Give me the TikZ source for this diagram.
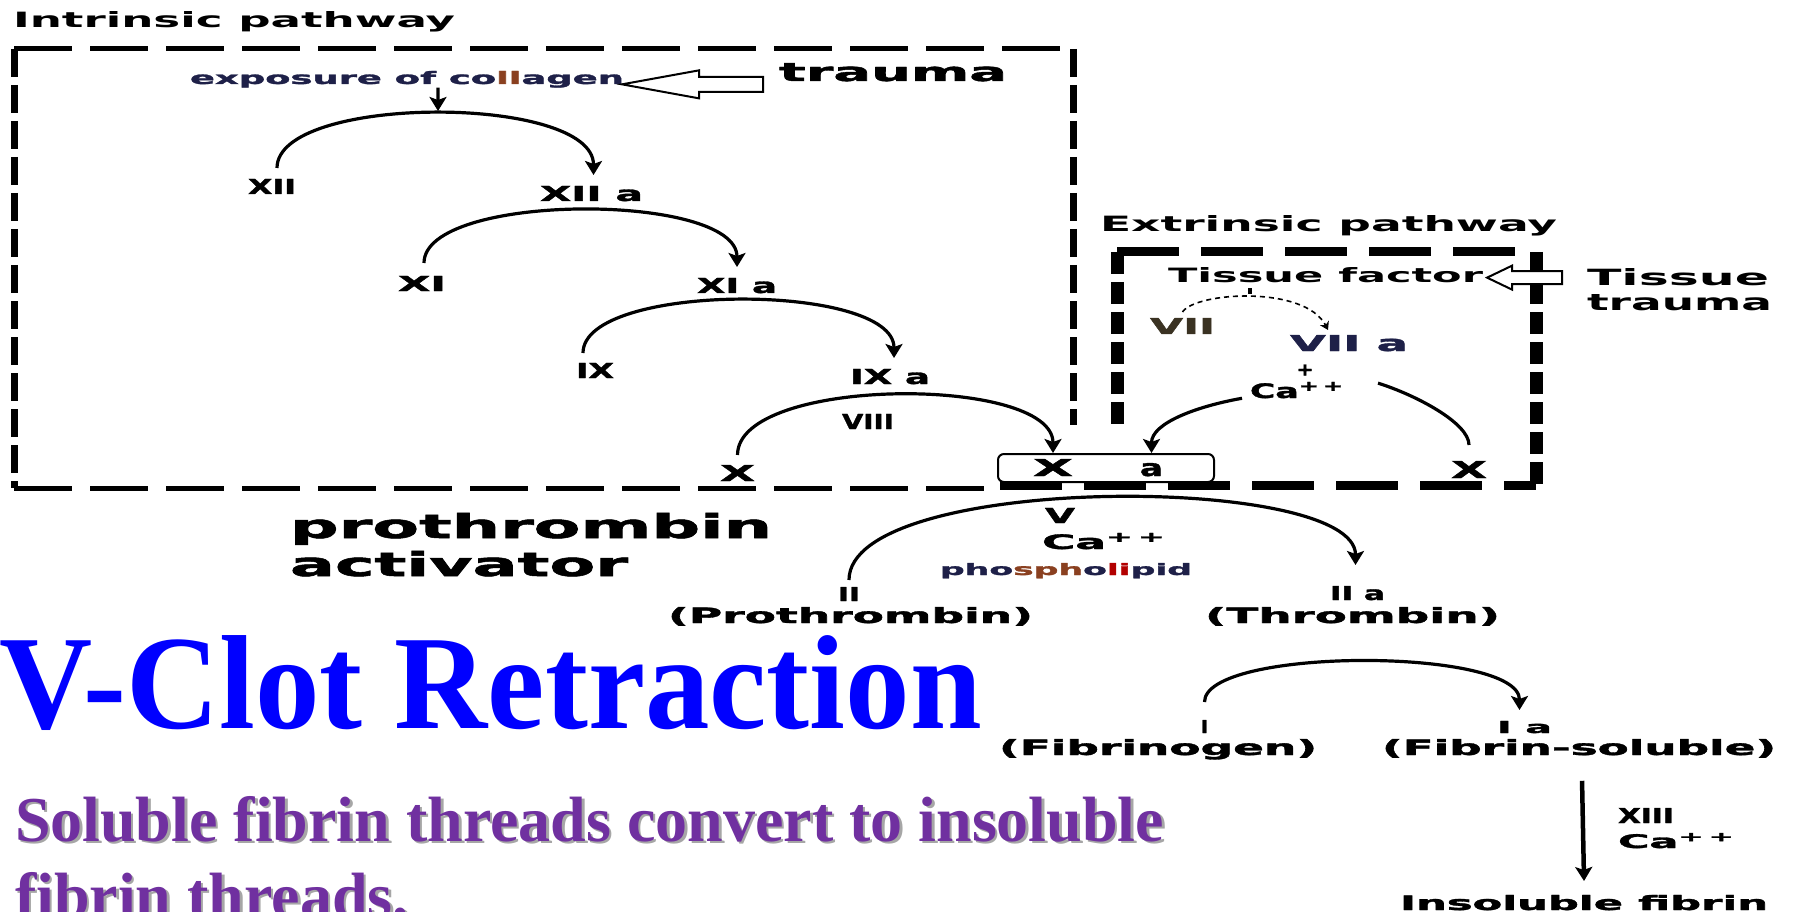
\documentclass[tikz,border=0pt]{standalone}
\usepackage{fontspec}
\usepackage{graphicx}
\usetikzlibrary{arrows.meta,calc}
\newfontfamily\dv{DejaVu Sans}
\newfontfamily\dvh{DejaVu Sans}[BoldFeatures={FakeBold=1.5}]
\newfontfamily\tnr{Liberation Serif}
\definecolor{purp}{HTML}{7030A0}
\definecolor{navy}{HTML}{1E2048}
\definecolor{brn}{HTML}{8A4020}
\definecolor{olv}{HTML}{3A3222}
\newcommand\rs[3]{\resizebox{#1pt}{#2pt}{#3}}
\begin{document}
\begin{tikzpicture}[x=1pt,y=-1pt,
 lb/.style={inner sep=0pt,outer sep=0pt,anchor=base west,font=\dvh\bfseries},
 lm/.style={inner sep=0pt,outer sep=0pt,anchor=base west,font=\dv\bfseries},
 inh/.style={line width=5pt,dash pattern=on 58pt off 18pt},
 inv/.style={line width=7pt,dash pattern=on 28pt off 8pt},
 exh/.style={line width=9pt,dash pattern=on 62pt off 22pt},
 exv/.style={line width=13pt,dash pattern=on 22pt off 8pt},
 cascade/.style={line width=3.2pt,-{Stealth[width=17pt,length=14pt,inset=3pt]}},
 curve/.style={line width=3.2pt},
 hollow/.style={draw,line width=2pt,fill=white,line join=miter},
 bigtxt/.style={inner sep=0pt,outer sep=0pt,anchor=base west,font=\tnr\bfseries\fontsize{64}{64}\selectfont},
]
\useasboundingbox (0,0) rectangle (1808,912);
\fill[white] (0,0) rectangle (1808,912);

% dashed frames
\draw[inh] (14,49) -- (1073,49);
\draw[inv] (14,49) -- (14,488);
\draw[inv] (1073,49) -- (1073,425);
\draw[inh] (14,488) -- (1000,488);
\draw[exh] (1117,252) -- (1536,252);
\draw[exv] (1117,252) -- (1117,424);
\draw[exv] (1536,252) -- (1536,485);
\draw[exh] (1000,485) -- (1536,485);

% labels: intrinsic
\node[lm] (intr) at (13,28) {\rs{442}{16}{Intrinsic pathway}};
\node[lb,text=navy] (expo) at (190,84) {\rs{434}{13}{exposure of co\textcolor{brn}{ll}agen}};
\node[lb] (trauma1) at (779,81) {\rs{228}{18}{trauma}};
\node[lb] (XII) at (248,194) {\rs{48}{15}{XII}};
\node[lb] (XIIa) at (540,201) {\rs{103}{15}{XII a}};
\node[lb] (XI) at (398,291) {\rs{48}{15}{XI}};
\node[lb] (XIa) at (697,293) {\rs{80}{15}{XI a}};
\node[lb] (IX) at (576,378) {\rs{38}{15}{IX}};
\node[lb] (IXa) at (850,384) {\rs{80}{15}{IX a}};
\node[lb] (VIII) at (842,429) {\rs{52}{15}{VIII}};
\node[lb] (X1) at (720,481) {\rs{35}{16}{X}};

% X a box
\node[draw,rounded corners=6pt,line width=2pt,minimum width=216pt,minimum height=28pt,inner sep=0pt,fill=white] (xabox) at (1106,468) {};
\node[lb] (xaX) at (1033,476) {\rs{40}{17}{X}};
\node[lb] (xaA) at (1140,476) {\rs{23}{13}{a}};

% extrinsic
\node[lm] (extr) at (1100,232) {\rs{457}{16}{Extrinsic pathway}};
\node[lm,fill=white] (tf) at (1168,283) {\rs{315}{15}{Tissue factor}};
\node[lm] (tt1) at (1587,286) {\rs{182}{17}{Tissue}};
\node[lm] (tt2) at (1587,310) {\rs{185}{16}{trauma}};
\node[lb,text=olv] (VII) at (1150,334) {\rs{65}{16}{VII}};
\node[lb,text=navy] (VIIa) at (1290,351) {\rs{118}{16}{VII a}};
\node[lb,anchor=center] (plus) at (1305,370) {\rs{17}{11}{+}};
\node[lb] (Ca1) at (1250,398) {\rs{95}{16}{Ca\textsuperscript{+\,+}}};
\node[lb] (X2) at (1451,478) {\rs{36}{17}{X}};

% prothrombin part
\node[lb] (pa1) at (290,538) {\rs{482}{25}{prothrombin}};
\node[lb] (pa2) at (290,576) {\rs{338}{25}{activator}};
\node[lb] (V) at (1045,523) {\rs{30}{15}{V}};
\node[lb] (Ca2) at (1042,549) {\rs{125}{16}{Ca\textsuperscript{+\,+}}};
\node[lb,text=navy] (phos) at (940,575) {\rs{252}{12}{pho\textcolor{brn}{sph}o\textcolor{red!70!black}{li}pid}};
\node[lb] (II) at (838,601) {\rs{22}{14}{II}};
\node[lb] (proth) at (668,623) {\rs{365}{16}{(Prothrombin)}};
\node[lb] (IIa) at (1330,600) {\rs{55}{14}{II a}};
\node[lb] (thromb) at (1205,623) {\rs{295}{16}{(Thrombin)}};

% fibrin part
\node[lb] (I1) at (1201,733) {\rs{7}{13}{I}};
\node[lb] (Ia) at (1497,733) {\rs{55}{12}{I a}};
\node[lb] (fibgen) at (999,755) {\rs{318}{16}{(Fibrinogen)}};
\node[lb] (fibsol) at (1382,755) {\rs{394}{16}{(Fibrin-soluble)}};
\node[lb] (XIII) at (1618,823) {\rs{56}{15}{XIII}};
\node[lb] (Ca3) at (1618,848) {\rs{118}{15}{Ca\textsuperscript{+\,+}}};
\node[lb] (insol) at (1400,910) {\rs{368}{15}{Insoluble fibrin}};

% hollow arrows
\coordinate (tA) at ([xshift=-2pt,yshift=-5pt]expo.east);
\draw[hollow] (tA) -- ++(77,-14) -- ++(0,6.5) -- ++(64,0) -- ++(0,15) -- ++(-64,0) -- ++(0,6.5) -- cycle;
\coordinate (tB) at ([xshift=4pt,yshift=-2pt]tf.east);
\draw[hollow] (tB) -- ++(25,-12) -- ++(0,5.5) -- ++(50,0) -- ++(0,13) -- ++(-50,0) -- ++(0,5.5) -- cycle;

% connectors
\coordinate (pk1) at (438,111);
\draw[cascade] ([xshift=31pt]expo.south) -- (pk1);
\draw[cascade] ([xshift=5pt,yshift=11pt]XII.north) .. controls +(0,-74) and +(0,-81) .. ([xshift=2pt,yshift=11pt]XIIa.north);
\draw[cascade] ([xshift=2pt,yshift=13pt]XI.north) .. controls +(0,-71) and +(0,-75) .. ([yshift=11pt]XIa.north);
\draw[cascade] ([xshift=-12pt,yshift=10pt]IX.north) .. controls +(0,-71) and +(0,-76) .. ([xshift=4pt,yshift=11pt]IXa.north);
\draw[cascade] ([yshift=10pt]X1.north) .. controls +(0,-79) and +(0,-78) .. (xaX |- xabox.north);
\draw[cascade] ([xshift=-8pt]Ca1.south west) .. controls +(-45,8) and +(0,-30) .. (xaA |- xabox.north);
\draw[curve] ([yshift=16pt]X2.north) .. controls +(0,-22) and +(38,12) .. ([xshift=33pt,yshift=7pt]Ca1.east);
\fill (1248,288) rectangle (1252,294);
\draw[line width=1.6pt,dash pattern=on 5pt off 4pt,-{Stealth[width=10pt,length=8pt]}] ([yshift=6pt]VII.north) .. controls +(13,-20) and +(-23,-45) .. ([xshift=-21pt,yshift=5pt]VIIa.north);
\draw[cascade] ([yshift=7pt]II.north) .. controls +(0,-107) and +(0,-92) .. ([xshift=-2pt,yshift=21pt]IIa.north);
\draw[cascade] ([yshift=18pt]I1.north) .. controls +(0,-55) and +(0,-63) .. ([xshift=-5pt,yshift=11pt]Ia.north);
\draw[line width=4.5pt,-{Stealth[width=17pt,length=14pt,inset=3pt]}] ([xshift=3pt,yshift=-23pt]fibsol.south) -- ([yshift=14pt]insol.north);

% titles
\node[inner sep=0pt,outer sep=0pt,anchor=base east,text=blue,font=\tnr\bfseries\fontsize{134}{134}\selectfont] (title) at (982,728) {\scalebox{0.962}[1]{IV-Clot Retraction}};
\node[bigtxt,text=black!35] at (17.5,843.5) {Soluble fibrin threads convert to insoluble};
\node[bigtxt,text=purp] (sol1) at (15,841) {Soluble fibrin threads convert to insoluble};
\node[bigtxt,text=black!35] at (17.5,919.5) {fibrin threads.};
\node[bigtxt,text=purp] (sol2) at (15,917) {fibrin threads.};
\end{tikzpicture}
\end{document}
